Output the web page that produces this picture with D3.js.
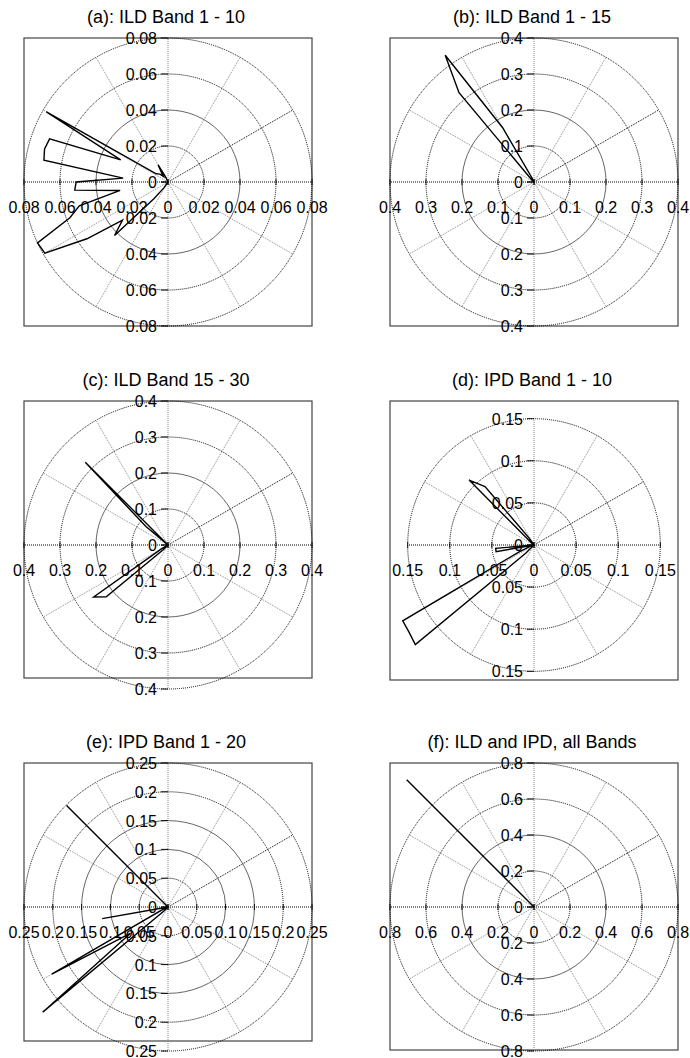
<!DOCTYPE html>
<html>
<head>
<meta charset="utf-8">
<script src="https://cdn.jsdelivr.net/npm/d3@7"></script>
<style>
  body { margin: 0; background: #fff; }
  svg { display: block; font-family: "Liberation Sans", Arial, sans-serif; }
</style>
</head>
<body>
<svg id="chart" width="690" height="1058"></svg>
<script>
// panel titles
var titles = ["(a): ILD Band 1 - 10", "(b): ILD Band 1 - 15", "(c): ILD Band 15 - 30",
  "(d): IPD Band 1 - 10", "(e): IPD Band 1 - 20", "(f): ILD and IPD, all Bands"];

// ring ticks (radial axis) of each panel
var ringsA = [0.02, 0.04, 0.06, 0.08];
var ringsB = [0.1, 0.2, 0.3, 0.4];
var ringsC = [0.1, 0.2, 0.3, 0.4];
var ringsD = [0.05, 0.1, 0.15];
var ringsE = [0.05, 0.1, 0.15, 0.2, 0.25];
var ringsF = [0.2, 0.4, 0.6, 0.8];

// radial limit of each panel (value reached at the box edge)
var rlims = [0.08, 0.4, 0.4, 0.171, 0.25, 0.8];

// polar data: angle in degrees, radius
var thetaA = [0, 110, 115, 120, 125, 130, 135, 140, 145, 150, 155, 160, 165, 170, 175,
  180, 185, 190, 195, 200, 205, 210, 215, 220, 225, 230, 235, 240, 360];
var rA = [0, 0, 0.003, 0.011, 0.006, 0.004, 0.006, 0.007, 0.008, 0.078, 0.029, 0.070, 0.071, 0.070, 0.025,
  0.051, 0.052, 0.027, 0.051, 0.058, 0.080, 0.079, 0.055, 0.033, 0.042, 0.012, 0.004, 0, 0];

var thetaB = [0, 110, 115, 120, 125, 130, 135, 140, 360];
var rB = [0, 0, 0.01, 0.174, 0.43, 0.324, 0.01, 0, 0];

var thetaC = [0, 125, 130, 135, 140, 145, 205, 210, 215, 220, 225, 230, 360];
var rC = [0, 0, 0, 0.325, 0.08, 0, 0, 0.02, 0.252, 0.224, 0.02, 0, 0];

var thetaD = [0, 120, 125, 130, 135, 140, 180, 185, 190, 195, 200, 205, 210, 215, 220, 225, 230, 360];
var rD = [0, 0, 0.01, 0.0905, 0.109, 0.005, 0, 0.0457, 0.0457, 0, 0.005, 0.02, 0.180, 0.181, 0.184, 0.014, 0, 0];

var thetaE = [0, 130, 135, 140, 185, 190, 195, 205, 210, 215, 220, 225, 360];
var rE = [0, 0, 0.249, 0, 0, 0.116, 0, 0.01, 0.233, 0.08, 0.284, 0.01, 0];

var thetaF = [0, 130, 135, 140, 360];
var rF = [0, 0, 1.0, 0, 0];

var panels = [
  {rings: ringsA, theta: thetaA, r: rA},
  {rings: ringsB, theta: thetaB, r: rB},
  {rings: ringsC, theta: thetaC, r: rC},
  {rings: ringsD, theta: thetaD, r: rD},
  {rings: ringsE, theta: thetaE, r: rE},
  {rings: ringsF, theta: thetaF, r: rF}
];

// layout
var colX = [168, 534];
var rowY = [182, 545, 907];
var half = 144;
var boxBottom = [144, 144, 133, 135, 134, 143];
// rings that render as solid grey lines in the original
var solidRings = [[1], [1], [1], [], [1, 2], [1]];
var spokes = [0, 30, 60, 90, 120, 150, 180, 210, 240, 270, 300, 330];

var svg = d3.select("#chart");
var rad = Math.PI / 180;

panels.forEach(function (p, i) {
  var cx = colX[i % 2], cy = rowY[Math.floor(i / 2)];
  var rScale = d3.scaleLinear().domain([0, rlims[i]]).range([0, half]);
  var rOut = rScale(d3.max(p.rings));
  var g = svg.append("g").attr("transform", "translate(" + cx + "," + cy + ")");

  // box
  g.append("rect")
    .attr("x", -half).attr("y", -half)
    .attr("width", 2 * half).attr("height", half + boxBottom[i])
    .attr("fill", "none").attr("stroke", "#444").attr("stroke-width", 1.2);

  // spokes
  g.selectAll(".spoke").data(spokes).enter().append("line")
    .attr("x1", 0).attr("y1", 0)
    .attr("x2", d => rOut * Math.cos(d * rad))
    .attr("y2", d => -rOut * Math.sin(d * rad))
    .attr("stroke", d => (d === 0 || d === 30 || d === 180) ? "#000" : "#888")
    .attr("stroke-width", 1)
    .attr("stroke-dasharray", "1,1");

  // rings
  g.selectAll(".ring").data(p.rings).enter().append("circle")
    .attr("r", d => rScale(d))
    .attr("fill", "none")
    .attr("stroke", (d, k) => solidRings[i].includes(k) ? "#666" : "#000")
    .attr("stroke-width", 1)
    .attr("stroke-dasharray", (d, k) => solidRings[i].includes(k) ? null : "1,1");

  // ticks on both axes
  var tickVals = [0].concat(p.rings);
  tickVals.forEach(function (v) {
    [1, -1].forEach(function (s) {
      g.append("line")
        .attr("x1", -7).attr("x2", 0)
        .attr("y1", s * rScale(v)).attr("y2", s * rScale(v))
        .attr("stroke", "#000").attr("stroke-width", 0.9);
      g.append("line")
        .attr("x1", s * rScale(v)).attr("x2", s * rScale(v))
        .attr("y1", -3).attr("y2", 3)
        .attr("stroke", "#000").attr("stroke-width", 0.9);
    });
  });

  // data polyline
  var pts = p.theta.map((t, k) => ({t: t, r: p.r[k]}));
  var line = d3.lineRadial()
    .angle(d => Math.PI / 2 - d.t * rad)
    .radius(d => rScale(d.r));
  g.append("path")
    .attr("d", line(pts))
    .attr("fill", "none")
    .attr("stroke", "#000")
    .attr("stroke-width", 1.4)
    .attr("stroke-linejoin", "miter");

  // tick labels
  var labels = [{v: 0, s: 1}];
  p.rings.forEach(v => { labels.push({v: v, s: 1}); labels.push({v: v, s: -1}); });
  g.selectAll(".ylab").data(labels).enter().append("text")
    .attr("x", -11)
    .attr("y", d => -d.s * rScale(d.v) + 6)
    .attr("text-anchor", "end")
    .style("font-size", "16px")
    .text(d => String(d.v));
  g.selectAll(".xlab").data(labels).enter().append("text")
    .attr("x", d => d.s * rScale(d.v))
    .attr("y", 31)
    .attr("text-anchor", "middle")
    .style("font-size", "16px")
    .text(d => String(d.v));

  // title
  g.append("text")
    .attr("x", -2)
    .attr("y", -half - 15)
    .attr("text-anchor", "middle")
    .style("font-size", "18px")
    .text(titles[i]);
});
</script>
</body>
</html>
